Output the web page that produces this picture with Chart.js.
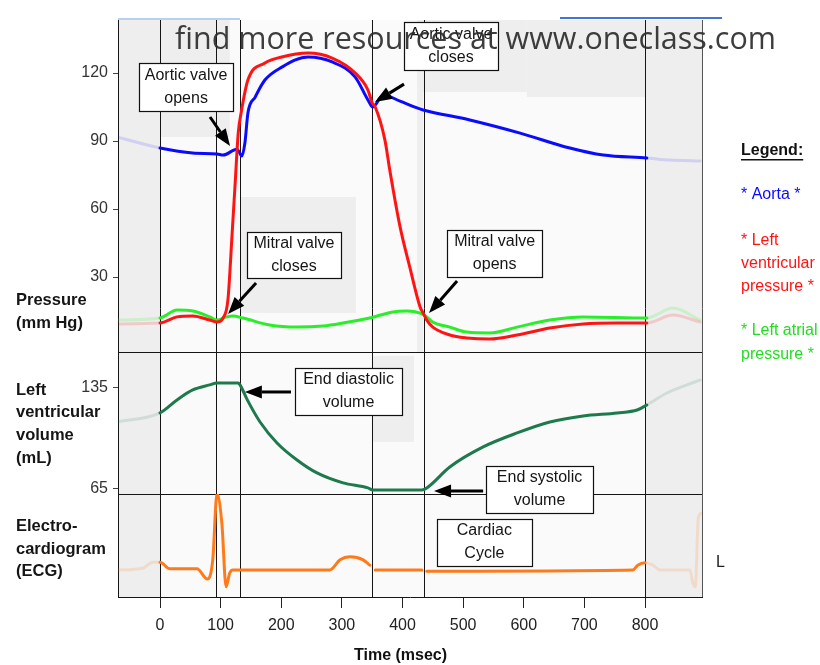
<!DOCTYPE html>
<html>
<head>
<meta charset="utf-8">
<script src="https://cdn.jsdelivr.net/npm/chart.js@4/dist/chart.umd.min.js"></script>
<style>
  html, body { margin: 0; padding: 0; background: #ffffff; }
  canvas { display: block; }
</style>
</head>
<body>
<canvas id="wiggers" width="820" height="665"></canvas>
<script>
// ---- Time axis (msec) ----
const timeTicks = [0, 100, 200, 300, 400, 500, 600, 700, 800];
const cycle = [0, 800];                       // one cardiac cycle
const events = [0, 92, 132, 350, 435, 800];   // valve events / cycle limits

// ---- Axis ticks ----
const pressureTicks = [30, 60, 90, 120];
const volumeTicks = [65, 135];

// ---- Aortic pressure (mm Hg) ----
const aortaT = [-71, 0, 54, 94, 104, 127, 135, 140, 145, 157, 173, 201, 244, 284, 322, 343, 351, 368, 396, 424, 434, 511, 594, 676, 731, 803, 841, 891];
const aortaP = [91.8, 86.9, 84.7, 84.3, 83.8, 86.4, 83.4, 89.1, 102.4, 109.4, 116.9, 122.6, 127.1, 124.9, 118.2, 108.1, 105.0, 110.3, 107.6, 104.6, 103.7, 99.3, 93.5, 86.9, 83.8, 82.5, 81.6, 81.2];

// ---- Left ventricular pressure (mm Hg) ----
const lvpT = [-71, 0, 28, 54, 82, 94, 104, 112, 119, 124, 129, 134, 145, 173, 201, 244, 284, 322, 343, 350, 355, 371, 379, 396, 412, 429, 434, 440, 450, 478, 506, 544, 589, 643, 698, 754, 803, 846, 891];
const lvpP = [9.3, 9.7, 12.4, 12.8, 11.0, 10.1, 11.9, 19.9, 49.4, 71.5, 93.5, 102.8, 116.9, 124.4, 127.1, 128.8, 126.6, 120.0, 112.5, 106.8, 105.0, 90.4, 77.2, 52.1, 34.4, 16.8, 14.1, 11.0, 7.9, 4.4, 3.1, 2.6, 4.4, 7.5, 9.3, 9.7, 9.7, 13.2, 10.1];

// ---- Left atrial pressure (mm Hg) ----
const lapT = [-71, 0, 28, 54, 82, 94, 110, 120, 137, 181, 226, 269, 302, 346, 384, 407, 429, 440, 450, 478, 506, 544, 589, 643, 698, 803, 846, 891];
const lapP = [11.0, 11.9, 15.4, 15.0, 12.4, 11.0, 12.4, 12.8, 11.9, 8.8, 7.9, 8.4, 9.7, 11.9, 14.6, 15.0, 14.1, 12.4, 10.1, 7.9, 5.7, 5.3, 7.9, 11.0, 12.4, 11.9, 16.3, 11.0];

// ---- Left ventricular volume (mL) ----
const volT = [-71, 0, 28, 54, 82, 94, 129, 132, 144, 165, 193, 226, 259, 302, 343, 351, 432, 440, 478, 533, 589, 643, 698, 754, 787, 803, 836, 891];
const volV = [111.4, 117.7, 126.7, 133.6, 137.1, 138.5, 138.5, 137.1, 126.7, 111.4, 96.9, 85.1, 76.1, 69.2, 65.7, 64.3, 64.3, 65.7, 80.2, 94.1, 103.8, 111.4, 115.6, 117.7, 119.7, 123.2, 131.5, 140.5];

// ---- ECG (mV, baseline 0) ----
const ecgT = [-71, -28, -12, 0, 16, 61, 78, 87, 94, 102, 109, 115, 120, 181, 280, 297, 313, 335, 346, 350, 355, 432, 435, 440, 780, 788, 800, 813, 825, 874, 879, 883, 888, 894];
const ecgV = [0, 0.03, 0.13, 0.13, 0.02, 0.02, -0.15, 0.17, 1.27, 0.78, -0.28, -0.05, 0, 0, 0, 0.17, 0.22, 0.17, 0.08, null, 0, 0, null, -0.02, 0, 0.08, 0.12, 0.08, 0, 0, -0.22, -0.28, 0.88, 0.95];

const FONT = "'Liberation Sans', Arial, Helvetica, sans-serif";
const pts = (t, v) => t.map((x, i) => ({ x, y: v[i] }));

// curves fade outside the displayed cycle
const fadeOutside = faded => ctx =>
  (ctx.p1.parsed.x <= cycle[0] || ctx.p0.parsed.x >= cycle[1]) ? faded : undefined;

function curve(label, t, v, axis, color, faded) {
  return {
    label, data: pts(t, v), yAxisID: axis,
    borderColor: color, borderWidth: 3,
    pointRadius: 0, fill: false, spanGaps: false,
    cubicInterpolationMode: 'monotone',
    borderJoinStyle: 'round', borderCapStyle: 'round',
    segment: { borderColor: fadeOutside(faded) }
  };
}

const datasets = [
  curve('Left ventricular pressure', lvpT, lvpP, 'yP', '#ff1414', 'rgba(255,20,20,0.16)'),
  curve('Aorta', aortaT, aortaP, 'yP', '#0a0aff', 'rgba(10,10,255,0.13)'),
  curve('Left atrial pressure', lapT, lapP, 'yP', '#2aee2a', 'rgba(42,238,42,0.18)'),
  curve('Left ventricular volume', volT, volV, 'yV', '#1e7a4c', 'rgba(30,122,76,0.14)'),
  curve('ECG', ecgT, ecgV, 'yE', '#ff7a1a', 'rgba(255,122,26,0.16)')
];

// light panels behind parts of the diagram
const shades = [
  { axis: 'yP', x: [-69.3, 115], y: [91.8, 143.4] },
  { axis: 'yP', x: [132, 323], y: [14.1, 65.3] },
  { axis: 'yP', x: [424, 605], y: [111.6, 143.4] },
  { axis: 'yP', x: [605, 800], y: [109.4, 143.4] },
  { axis: 'yP', x: [424, 434], y: [-3.09, 111.6] },
  { axis: 'yV', x: [351, 419], y: [97.6, 157.2] }
];

// labelled call-outs (centre in data units, arrow from -> to)
const notes = [
  { text: ['Aortic valve', 'opens'], axis: 'yP', x: 43, y: 113.8, w: 94, h: 48, from: [82.5, 100.6], to: [115.5, 87.8] },
  { text: ['Aortic valve', 'closes'], axis: 'yP', x: 480, y: 131.9, w: 94, h: 48, from: [402.5, 115.1], to: [354.6, 107.2] },
  { text: ['Mitral valve', 'closes'], axis: 'yP', x: 221, y: 39.7, w: 94, h: 46, from: [158.4, 27.4], to: [112.2, 13.7] },
  { text: ['Mitral valve', 'opens'], axis: 'yP', x: 552, y: 40.4, w: 95, h: 47, from: [490, 28.2], to: [443.7, 14.1] },
  { text: ['End diastolic', 'volume'], axis: 'yV', x: 311, y: 132.6, w: 107, h: 47, from: [216, 132.2], to: [140, 132.2] },
  { text: ['End systolic', 'volume'], axis: 'yV', x: 626, y: 64.65, w: 107, h: 47, from: [533, 63.6], to: [452, 63.6] },
  { text: ['Cardiac', 'Cycle'], axis: 'yE', x: 535, y: 0.458, w: 95, h: 47 }
];

const sideLabels = [
  { axis: 'yP', at: 14.6, lines: ['Pressure', '(mm Hg)'] },
  { axis: 'yV', at: 110, lines: ['Left', 'ventricular', 'volume', '(mL)'] },
  { axis: 'yE', at: 0.35, lines: ['Electro-', 'cardiogram', '(ECG)'] }
];

const legendLines = [
  { text: 'Legend:', y: 151, color: '#111', bold: true, underline: true },
  { text: '* Aorta *', y: 195, ds: 1 },
  { text: '* Left', y: 241, ds: 0 },
  { text: 'ventricular', y: 264, ds: 0 },
  { text: 'pressure *', y: 287, ds: 0 },
  { text: '* Left atrial', y: 331, ds: 2, color: '#22dd22' },
  { text: 'pressure *', y: 355, ds: 2, color: '#22dd22' }
];

function arrow(ctx, x0, y0, x1, y1) {
  const a = Math.atan2(y1 - y0, x1 - x0), L = 17, W = 6.5;
  const bx = x1 - L * Math.cos(a), by = y1 - L * Math.sin(a);
  ctx.strokeStyle = '#000'; ctx.lineWidth = 3; ctx.lineCap = 'butt';
  ctx.beginPath(); ctx.moveTo(x0, y0); ctx.lineTo(bx, by); ctx.stroke();
  ctx.fillStyle = '#000';
  ctx.beginPath();
  ctx.moveTo(x1, y1);
  ctx.lineTo(bx + W * Math.sin(a), by - W * Math.cos(a));
  ctx.lineTo(bx - W * Math.sin(a), by + W * Math.cos(a));
  ctx.closePath(); ctx.fill();
}

const backdrop = {
  id: 'backdrop',
  beforeDraw(chart) {
    const { ctx, chartArea: a, scales } = chart;
    const x = scales.x;
    ctx.save();
    ctx.fillStyle = '#fafafa';
    ctx.fillRect(a.left, a.top, a.width, a.height);
    ctx.fillStyle = '#eeeeee';
    const c0 = x.getPixelForValue(cycle[0]), c1 = x.getPixelForValue(cycle[1]);
    ctx.fillRect(a.left, a.top, c0 - a.left, a.height);
    ctx.fillRect(c1, a.top, a.right - c1, a.height);
    for (const s of shades) {
      const y = scales[s.axis];
      const l = x.getPixelForValue(s.x[0]), r = x.getPixelForValue(s.x[1]);
      const t = y.getPixelForValue(s.y[1]), b = y.getPixelForValue(s.y[0]);
      ctx.fillRect(l, t, r - l, b - t);
    }
    ctx.restore();
  }
};

const frames = {
  id: 'frames',
  beforeDatasetsDraw(chart) {
    const { ctx, chartArea: a, scales } = chart;
    ctx.save();
    ctx.strokeStyle = '#151515';
    ctx.lineWidth = 1;
    ctx.beginPath();
    for (const e of events) {
      const px = Math.round(scales.x.getPixelForValue(e)) + 0.5;
      ctx.moveTo(px, a.top); ctx.lineTo(px, a.bottom);
    }
    for (const id of ['yV', 'yE']) {
      const py = Math.round(scales[id].top) + 0.5;
      ctx.moveTo(a.left, py); ctx.lineTo(a.right, py);
    }
    ctx.stroke();
    ctx.strokeStyle = '#555';
    ctx.beginPath();
    ctx.moveTo(Math.round(a.right) + 0.5, a.top); ctx.lineTo(Math.round(a.right) + 0.5, a.bottom);
    ctx.stroke();
    ctx.restore();
  }
};

const callouts = {
  id: 'callouts',
  afterDatasetsDraw(chart) {
    const { ctx, scales } = chart;
    const x = scales.x;
    ctx.save();
    for (const n of notes) {
      const y = scales[n.axis];
      if (n.from) {
        arrow(ctx, x.getPixelForValue(n.from[0]), y.getPixelForValue(n.from[1]),
                   x.getPixelForValue(n.to[0]), y.getPixelForValue(n.to[1]));
      }
      const cx = x.getPixelForValue(n.x), cy = y.getPixelForValue(n.y);
      const l = Math.round(cx - n.w / 2) + 0.5, t = Math.round(cy - n.h / 2) + 0.5;
      ctx.fillStyle = '#ffffff';
      ctx.fillRect(l, t, n.w, n.h);
      ctx.strokeStyle = '#111'; ctx.lineWidth = 1.2;
      ctx.strokeRect(l, t, n.w, n.h);
      ctx.fillStyle = '#151515';
      ctx.font = `16px ${FONT}`;
      ctx.textAlign = 'center'; ctx.textBaseline = 'middle';
      const step = 23, first = cy - step * (n.text.length - 1) / 2;
      n.text.forEach((s, i) => ctx.fillText(s, cx, first + i * step));
    }
    ctx.restore();
  }
};

const texts = {
  id: 'texts',
  afterDraw(chart) {
    const { ctx, chartArea: a, scales } = chart;
    ctx.save();
    ctx.textBaseline = 'middle';

    // panel names on the left
    ctx.fillStyle = '#151515';
    ctx.font = `bold 16.5px ${FONT}`;
    ctx.textAlign = 'left';
    for (const s of sideLabels) {
      const cy = scales[s.axis].getPixelForValue(s.at), step = 22.7;
      const first = cy - step * (s.lines.length - 1) / 2;
      s.lines.forEach((t, i) => ctx.fillText(t, 16, first + i * step));
    }

    // legend at the right
    const lx = a.right + 39;
    for (const L of legendLines) {
      const color = L.color || (L.ds !== undefined ? chart.data.datasets[L.ds].borderColor : '#111');
      ctx.fillStyle = color;
      ctx.font = `${L.bold ? 'bold ' : ''}16px ${FONT}`;
      ctx.fillText(L.text, lx, L.y);
      if (L.underline) {
        const w = ctx.measureText(L.text).width;
        ctx.fillRect(lx, L.y + 8, w, 1.5);
      }
    }

    // time axis title, centred on the cycle
    const mid = (scales.x.getPixelForValue(cycle[0]) + scales.x.getPixelForValue(cycle[1])) / 2;
    ctx.fillStyle = '#111';
    ctx.font = `bold 16px ${FONT}`;
    ctx.textAlign = 'center';
    ctx.fillText('Time (msec)', mid - 2, 656);

    // clipped marker at the right edge
    ctx.textAlign = 'left';
    ctx.font = `16px ${FONT}`;
    ctx.fillStyle = '#222';
    ctx.fillText('L', 716, 563);

    // header rules
    ctx.fillStyle = '#b9cfee';
    ctx.fillRect(118, 18, 122, 2);
    ctx.fillStyle = '#3f78d2';
    ctx.fillRect(560, 17, 162, 2);

    // site banner text
    const banner = 'find more resources at www.oneclass.com';
    ctx.font = `30px 'Open Sans', 'Noto Sans', sans-serif`;
    const w30 = ctx.measureText(banner).width;
    const size = 30 * 601 / w30;
    ctx.font = `${size.toFixed(2)}px 'Open Sans', 'Noto Sans', sans-serif`;
    ctx.fillStyle = 'rgba(45,45,45,0.92)';
    ctx.textAlign = 'center';
    ctx.textBaseline = 'alphabetic';
    ctx.fillText(banner, 475.5, 49);
    ctx.restore();
  }
};

const yCommon = {
  type: 'linear', position: 'left', stack: 'panels',
  afterFit: s => { s.width = 118; },
  grid: { drawOnChartArea: false, drawTicks: true, tickLength: 5, color: '#444', lineWidth: 1 },
  border: { display: true, color: '#151515', width: 1 },
  ticks: { color: '#333', font: { family: FONT, size: 16 }, padding: 5 }
};

new Chart(document.getElementById('wiggers'), {
  type: 'line',
  data: { datasets },
  options: {
    responsive: false,
    animation: false,
    devicePixelRatio: 1,
    events: [],
    layout: { padding: { top: 20, right: 118, left: 0, bottom: 0 } },
    plugins: { legend: { display: false }, tooltip: { enabled: false }, title: { display: false } },
    scales: {
      x: {
        type: 'linear', min: -69.3, max: 894,
        afterBuildTicks: s => { s.ticks = timeTicks.map(v => ({ value: v })); },
        afterFit: s => { s.height = 68; },
        grid: { drawOnChartArea: false, drawTicks: true, tickLength: 11, color: '#222' },
        border: { display: true, color: '#151515' },
        ticks: { color: '#222', font: { family: FONT, size: 16 }, padding: 8, maxRotation: 0, autoSkip: false }
      },
      yE: Object.assign({}, yCommon, {
        stackWeight: 103, min: -0.45, max: 1.267,
        afterBuildTicks: s => { s.ticks = []; },
        grid: { display: false },
        ticks: { display: false }
      }),
      yV: Object.assign({}, yCommon, {
        stackWeight: 142, min: 61.5, max: 159.9,
        afterBuildTicks: s => { s.ticks = volumeTicks.map(v => ({ value: v })); }
      }),
      yP: Object.assign({}, yCommon, {
        stackWeight: 332, min: -3.09, max: 143.4,
        afterBuildTicks: s => { s.ticks = pressureTicks.map(v => ({ value: v })); }
      })
    }
  },
  plugins: [backdrop, frames, callouts, texts]
});
</script>
</body>
</html>
